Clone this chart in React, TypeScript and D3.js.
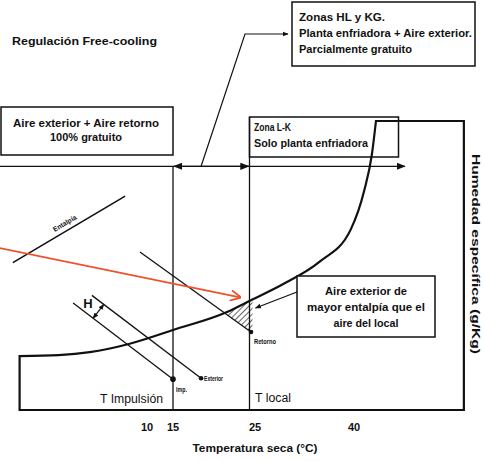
import React from 'react';
import * as d3 from 'd3';

// eje de temperatura seca (esquemático, no lineal)
const xTicks = [10, 15, 25, 40];
const tempMin = -18.3;
const tempMax = 56;
const humMax = 30;

// curva de saturación (temperatura °C, humedad específica g/kg)
const satTemp = [-14.5, -7, -1, 6.5, 15, 22, 25, 29.5, 35, 39.5, 41.5, 42.6, 43.2];
const satHum = [5.6, 5.7, 6.0, 6.85, 8.3, 10.2, 11.4, 13.0, 15.4, 18.7, 22.8, 26.5, 30];

// rectas de entalpía: [inicio, punto]
const retornoT = [8.65, 25];
const retornoW = [16.4, 8.1];
const exteriorT = [-0.6, 18.6];
const exteriorW = [11.9, 3.3];
const impT = [-4.2, 15];
const impW = [11.1, 3.2];
const entalpiaT = [-15.8, 5.8];
const entalpiaW = [15.3, 22.2];
const redT = [-18.3, 23.6];
const redW = [16.8, 11.7];
const zoneW = 25.3;
const zoneEndT = 47.4;
const leaderT = 18.6;

const W = 484;
const H = 461;
const FONT = "'Liberation Sans Narrow', 'Liberation Sans', Arial, sans-serif";

export default function App() {
  const x = d3.scaleLinear().domain(xTicks).range([147, 173, 251, 354]);
  const y = d3.scaleLinear().domain([0, humMax]).range([410, 121]);

  const sat: [number, number][] = satTemp.map((t, i) => [x(t), y(satHum[i])]);
  const line = d3.line().curve(d3.curveMonotoneX);
  const satPath = line(sat) as string;

  const x0 = x(satTemp[0]);
  const xR = x(tempMax);
  const outline =
    `M${x0},${y(0)}L${x0},${y(satHum[0])}` +
    satPath.slice(satPath.indexOf('C')) +
    `L${xR},${y(humMax)}L${xR},${y(0)}Z`;

  const seg = (ts: number[], ws: number[]) => ({
    x1: x(ts[0]), y1: y(ws[0]), x2: x(ts[1]), y2: y(ws[1]),
  });
  const ret = seg(retornoT, retornoW);
  const ext = seg(exteriorT, exteriorW);
  const imp = seg(impT, impW);
  const ent = seg(entalpiaT, entalpiaW);
  const red = seg(redT, redW);

  // intersección recta retorno con la curva (polilínea)
  const retY = (px: number) => ret.y1 + ((px - ret.x1) * (ret.y2 - ret.y1)) / (ret.x2 - ret.x1);
  let inter: [number, number] = sat[0];
  for (let i = 0; i < sat.length - 1; i++) {
    const [ax, ay] = sat[i];
    const [bx, by] = sat[i + 1];
    const da = retY(ax) - ay;
    const db = retY(bx) - by;
    if (da <= 0 && db >= 0 && bx > ret.x1) {
      const f = da / (da - db);
      inter = [ax + f * (bx - ax), ay + f * (by - ay)];
      break;
    }
  }
  const curveAt = (px: number) => {
    for (let i = 0; i < sat.length - 1; i++) {
      if (px >= sat[i][0] && px <= sat[i + 1][0]) {
        const f = (px - sat[i][0]) / (sat[i + 1][0] - sat[i][0]);
        return sat[i][1] + f * (sat[i + 1][1] - sat[i][1]);
      }
    }
    return sat[sat.length - 1][1];
  };
  const xl = x(25) - 1.5;
  const hatchPts: [number, number][] = [inter];
  sat.forEach(p => { if (p[0] > inter[0] && p[0] < xl) hatchPts.push(p); });
  hatchPts.push([xl + 3, curveAt(xl + 3)]);
  hatchPts.push([xl + 3, retY(xl + 3)]);
  const hatch = 'M' + hatchPts.map(p => p.join(',')).join('L') + 'Z';

  // flecha H entre recta de impulsión y exterior
  const ux = imp.x2 - imp.x1, uy = imp.y2 - imp.y1;
  const ul = Math.hypot(ux, uy);
  const bx0 = imp.x1 + ux * 0.2, by0 = imp.y1 + uy * 0.2;
  const nx = uy / ul, ny = -ux / ul;
  const es = (ext.y2 - ext.y1) / (ext.x2 - ext.x1);
  const s = (by0 - ext.y1 - (bx0 - ext.x1) * es) / (es * nx - ny);
  const bx1 = bx0 + nx * s, by1 = by0 + ny * s;

  const entAngle = (Math.atan2(ent.y2 - ent.y1, ent.x2 - ent.x1) * 180) / Math.PI;
  const stroke = '#111';

  return (
    <svg width={W} height={H} style={{ position: 'absolute', left: 0, top: 0, background: '#fff' }}
      fontFamily={FONT} fill={stroke}>
      <defs>
        <marker id="ah" viewBox="0 0 10 10" refX="9" refY="5" markerWidth="7" markerHeight="7" orient="auto-start-reverse">
          <path d="M0,1L10,5L0,9Z" fill={stroke} />
        </marker>
        <marker id="ahs" viewBox="0 0 10 10" refX="9" refY="5" markerWidth="5" markerHeight="5" orient="auto-start-reverse">
          <path d="M0,1L10,5L0,9Z" fill={stroke} />
        </marker>
        <marker id="ahr" viewBox="0 0 10 10" refX="9" refY="5" markerWidth="6" markerHeight="6" orient="auto">
          <path d="M0,0L10,5L0,10" fill="none" stroke="#f0502a" strokeWidth="1.6" />
        </marker>
        <pattern id="hatch" width="4" height="4" patternUnits="userSpaceOnUse" patternTransform="rotate(45)">
          <line x1="0" y1="0" x2="0" y2="4" stroke={stroke} strokeWidth="1.3" />
        </pattern>
      </defs>

      <text x={12} y={45} fontSize={11} fontWeight="bold" textLength={145} lengthAdjust="spacingAndGlyphs">Regulación Free-cooling</text>

      {/* caja aire exterior + retorno */}
      <rect x={1} y={107} width={172} height={48} fill="none" stroke={stroke} strokeWidth={1.5} />
      <g fontWeight="bold" fontSize={11}>
        <text x={86} y={127} textAnchor="middle" textLength={146} lengthAdjust="spacingAndGlyphs">Aire exterior + Aire retorno</text>
        <text x={86} y={141} textAnchor="middle" textLength={72} lengthAdjust="spacingAndGlyphs">100% gratuito</text>
      </g>

      {/* caja zonas HL y KG */}
      <rect x={292} y={2} width={183} height={64} fill="none" stroke={stroke} strokeWidth={1.5} />
      <g fontWeight="bold" fontSize={11}>
        <text x={299} y={21} textLength={86} lengthAdjust="spacingAndGlyphs">Zonas HL y KG.</text>
        <text x={299} y={37} textLength={173} lengthAdjust="spacingAndGlyphs">Planta enfriadora + Aire exterior.</text>
        <text x={299} y={53} textLength={113} lengthAdjust="spacingAndGlyphs">Parcialmente gratuito</text>
      </g>
      <polyline points={`${x(leaderT)},${y(zoneW)} 245,34 288,34`} fill="none" stroke={stroke} strokeWidth={1.2} markerEnd="url(#ahs)" />

      {/* gráfico: contorno con curva de saturación */}
      <path d={outline} fill="none" stroke={stroke} strokeWidth={2.2} />
      <path d={hatch} fill="url(#hatch)" stroke="none" />

      {/* línea de zonas */}
      <line x1={x(tempMin)} y1={y(zoneW)} x2={x(zoneEndT)} y2={y(zoneW)} stroke={stroke} strokeWidth={1.3} markerEnd="url(#ah)" />
      <line x1={x(15) + 1} y1={y(zoneW)} x2={xl - 1} y2={y(zoneW)} stroke={stroke} strokeWidth={1.3} markerStart="url(#ah)" markerEnd="url(#ah)" />

      {/* verticales T impulsión y T local */}
      <line x1={x(15)} y1={y(zoneW)} x2={x(15)} y2={y(0)} stroke={stroke} strokeWidth={1.3} />
      <line x1={xl} y1={117} x2={xl} y2={y(0)} stroke={stroke} strokeWidth={1.3} />

      {/* caja zona L-K */}
      <rect x={xl} y={117} width={149} height={40} fill="none" stroke={stroke} strokeWidth={1.5} />
      <g fontWeight="bold" fontSize={11}>
        <text x={254} y={131} textLength={37} lengthAdjust="spacingAndGlyphs">Zona L-K</text>
        <text x={254} y={147} textLength={114} lengthAdjust="spacingAndGlyphs">Solo planta enfriadora</text>
      </g>

      {/* rectas de entalpía */}
      <line {...ent} stroke={stroke} strokeWidth={1.6} />
      <text transform={`translate(${(ent.x1 + ent.x2) / 2 - 3},${(ent.y1 + ent.y2) / 2 - 4}) rotate(${entAngle})`}
        fontSize={7} fontWeight="bold" textAnchor="middle" textLength={26} lengthAdjust="spacingAndGlyphs">Entalpía</text>
      <line {...ret} stroke={stroke} strokeWidth={1.3} />
      <line {...ext} stroke={stroke} strokeWidth={1.3} />
      <line {...imp} stroke={stroke} strokeWidth={1.3} />
      <line x1={bx0} y1={by0} x2={bx1} y2={by1} stroke={stroke} strokeWidth={1.2} markerStart="url(#ahs)" markerEnd="url(#ahs)" />
      <text x={88} y={308} fontSize={13} fontWeight="bold" textAnchor="middle">H</text>

      <circle cx={ret.x2} cy={ret.y2} r={2.3} />
      <circle cx={ext.x2} cy={ext.y2} r={2.3} />
      <circle cx={imp.x2} cy={imp.y2} r={2.8} />
      <g fontWeight="bold">
        <text x={ext.x2 + 3} y={ext.y2 + 2.5} fontSize={7} textLength={19} lengthAdjust="spacingAndGlyphs">Exterior</text>
        <text x={imp.x2 + 3} y={imp.y2 + 13} fontSize={6.5} textLength={11} lengthAdjust="spacingAndGlyphs">Imp.</text>
        <text x={ret.x2 + 3} y={ret.y2 + 12} fontSize={6.5} textLength={22} lengthAdjust="spacingAndGlyphs">Retorno</text>
      </g>

      {/* caja mayor entalpía */}
      <rect x={297} y={276} width={138} height={61} fill="#fff" stroke={stroke} strokeWidth={1.5} />
      <g fontWeight="bold" fontSize={11}>
        <text x={366} y={295} textAnchor="middle" textLength={82} lengthAdjust="spacingAndGlyphs">Aire exterior de</text>
        <text x={366} y={311} textAnchor="middle" textLength={118} lengthAdjust="spacingAndGlyphs">mayor entalpía que el</text>
        <text x={366} y={327} textAnchor="middle" textLength={65} lengthAdjust="spacingAndGlyphs">aire del local</text>
      </g>
      <line x1={297} y1={292} x2={xl + 6} y2={308} stroke={stroke} strokeWidth={1.2} markerEnd="url(#ahs)" />

      {/* flecha roja */}
      <line {...red} stroke="#f0502a" strokeWidth={1.8} markerEnd="url(#ahr)" />

      {/* textos de temperaturas */}
      <text x={100} y={403} fontSize={12} textLength={63} lengthAdjust="spacingAndGlyphs">T Impulsión</text>
      <text x={255} y={402} fontSize={12} textLength={36} lengthAdjust="spacingAndGlyphs">T local</text>

      <g fontWeight="bold" fontSize={11}>
        {xTicks.map(t => (
          <text key={t} x={x(t) + (t === 25 ? 4 : 0)} y={431} textAnchor="middle">{t}</text>
        ))}
        <text x={255} y={452} textAnchor="middle" textLength={125} lengthAdjust="spacingAndGlyphs">Temperatura seca (°C)</text>
        <text transform="translate(472,254) rotate(90)" textAnchor="middle" textLength={200} lengthAdjust="spacingAndGlyphs">Humedad específica (g/Kg)</text>
      </g>
    </svg>
  );
}
